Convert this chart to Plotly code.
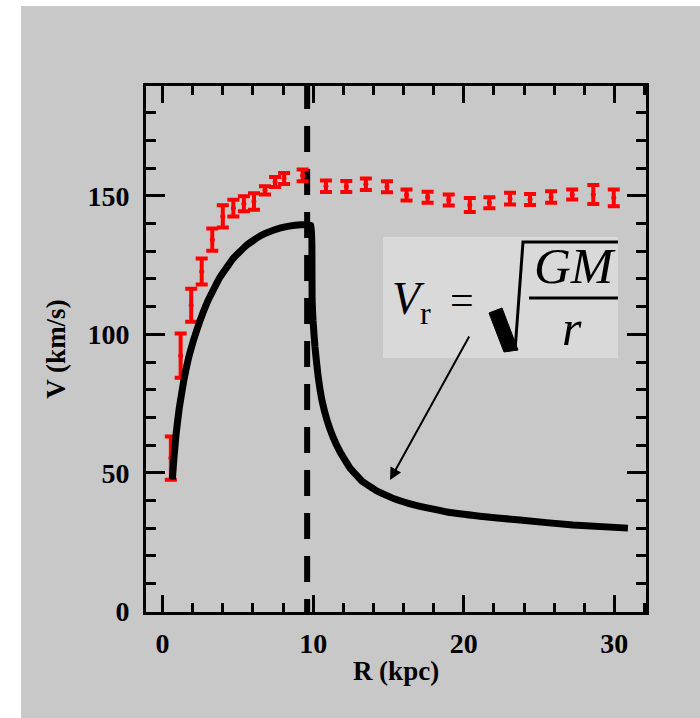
import plotly.graph_objects as go

# ---- data ----
obs_r = [0.55, 1.2, 1.9, 2.6, 3.3, 4.0, 4.7, 5.4, 6.07, 6.8, 7.47, 8.07, 9.3,
         10.85, 12.2, 13.5, 14.9, 16.2, 17.6, 19.0, 20.4, 21.7, 23.07, 24.4,
         25.8, 27.2, 28.6, 29.96]
obs_v = [55.3, 92.3, 110.5, 122.7, 134.2, 142.6, 145.6, 147.2, 148.0, 152.0,
         155.0, 156.3, 157.4, 153.5, 153.4, 154.2, 153.3, 150.3, 149.5, 148.5,
         146.7, 147.5, 149.0, 148.7, 149.6, 150.5, 150.5, 149.3]
obs_err = [7.8, 8.0, 6.0, 4.7, 4.0, 4.0, 3.0, 2.7, 3.0, 1.5, 1.8, 2.0, 2.1,
           2.1, 2.0, 2.1, 2.0, 2.0, 2.0, 2.0, 2.5, 2.0, 2.1, 2.0, 2.1, 1.8,
           3.4, 3.0]

model_r = [0.65, 0.75, 0.9, 1.1, 1.4, 1.8, 2.3, 3.0, 3.8, 4.7, 5.6, 6.5, 7.4,
           8.3, 9.2, 9.85, 9.92, 9.93, 9.99, 10.12, 10.32, 10.58, 10.92, 11.32,
           11.79, 12.45, 13.24, 14.24, 15.43, 16.76, 18.89, 21.07, 23.73,
           27.25, 30.9]
model_v = [47.6, 55.0, 64.0, 73.0, 83.0, 93.0, 102.0, 112.0, 120.5, 127.5,
           132.3, 135.6, 137.7, 139.0, 139.6, 139.3, 126.8, 112.4, 105.1, 95.4,
           85.3, 76.3, 69.0, 62.9, 57.5, 51.7, 47.0, 43.4, 40.5, 38.3, 35.8,
           34.3, 32.9, 31.1, 30.0]

r_cut = [9.6, 9.6]
v_cut = [-5, 195]

x_ticks = [0, 10, 20, 30]
y_ticks = [0, 50, 100, 150]

# ---- layout helpers (pixel -> paper) ----
L, R, T, B = 146, 646, 86, 612
W, H = 700, 718
def fx(px):
    return (px - L) / (R - L)
def fy(py):
    return (B - py) / (B - T)

BG = "#c8c8c8"
tick_font = dict(family="Liberation Serif", size=28, color="black", weight="bold")
title_font = dict(family="Liberation Serif", size=27, color="black")

fig = go.Figure()

fig.add_trace(go.Scatter(
    x=r_cut, y=v_cut, mode="lines",
    line=dict(color="black", width=6, dash="26px,17px"),
    hoverinfo="skip", showlegend=False))

fig.add_trace(go.Scatter(
    x=obs_r, y=obs_v, mode="markers",
    marker=dict(color="red", size=5),
    error_y=dict(type="data", array=obs_err, color="red", thickness=4, width=6),
    showlegend=False))

fig.add_trace(go.Scatter(
    x=model_r, y=model_v, mode="lines",
    line=dict(color="black", width=7, shape="spline", smoothing=0.3),
    showlegend=False))

shapes = []
# gray page background
shapes.append(dict(type="rect", xref="paper", yref="paper",
                   x0=fx(21), x1=fx(700), y0=fy(718), y1=fy(6),
                   fillcolor=BG, line=dict(width=0), layer="below"))
# formula box
shapes.append(dict(type="rect", xref="paper", yref="paper",
                   x0=fx(383), x1=fx(618), y0=fy(358), y1=fy(237),
                   fillcolor="#d9d9d9", line=dict(width=0), layer="below"))

def path(pts, close=True):
    s = "M " + " L ".join(f"{fx(a):.5f},{fy(b):.5f}" for a, b in pts)
    return s + (" Z" if close else "")

# radical sign: thick stroke
shapes.append(dict(type="path", xref="paper", yref="paper",
                   path=path([(489, 313), (502, 308), (518, 350), (504, 352)]),
                   fillcolor="black", line=dict(width=1, color="black")))
# radical thin upstroke + top bar
shapes.append(dict(type="path", xref="paper", yref="paper",
                   path=path([(515, 351), (523, 242), (618, 242)], close=False),
                   line=dict(width=3, color="black")))
# fraction bar
shapes.append(dict(type="line", xref="paper", yref="paper",
                   x0=fx(529), x1=fx(618), y0=fy(298), y1=fy(298),
                   line=dict(width=3, color="black")))

ann = []
def txt(s, px, py, size):
    ann.append(dict(text=s, xref="paper", yref="paper",
                    x=fx(px), y=fy(py), xanchor="center", yanchor="middle",
                    showarrow=False,
                    font=dict(family="Liberation Serif", size=size, color="black")))
txt("<i>V</i><sub>r</sub>", 411, 302, 46)
txt("=", 462, 300, 42)
txt("<i>GM</i>", 575, 266, 51)
txt("<i>r</i>", 572, 328, 50)

# arrow
ann.append(dict(text="", xref="paper", yref="paper",
                x=fx(390), y=fy(480), ax=80, ay=-145,
                showarrow=True, arrowhead=2, arrowsize=1.2, arrowwidth=2,
                arrowcolor="black"))

fig.update_layout(
    width=W, height=H,
    margin=dict(l=L, r=W - R, t=T, b=H - B, pad=0),
    paper_bgcolor="white", plot_bgcolor="rgba(0,0,0,0)",
    shapes=shapes, annotations=ann,
    xaxis=dict(range=[-1.1, 32.1], tickvals=x_ticks, ticktext=[str(v) for v in x_ticks],
               ticks="inside", ticklen=17, tickwidth=3, tickcolor="black",
               minor=dict(dtick=2, ticks="inside", ticklen=9, tickwidth=3, tickcolor="black"),
               showline=True, linewidth=3, linecolor="black", mirror="ticks",
               showgrid=False, zeroline=False, tickfont=tick_font,
               ticklabelstandoff=4,
               title=dict(text="<b>R (kpc)</b>", font=title_font, standoff=4)),
    yaxis=dict(range=[-0.3, 189.7], tickvals=y_ticks, ticktext=[str(v) for v in y_ticks],
               ticks="inside", ticklen=19, tickwidth=3, tickcolor="black",
               minor=dict(dtick=10, ticks="inside", ticklen=10, tickwidth=3, tickcolor="black"),
               showline=True, linewidth=3, linecolor="black", mirror="ticks",
               showgrid=False, zeroline=False, tickfont=tick_font,
               ticklabelstandoff=8,
               title=dict(text="<b>V (km/s)</b>", font=title_font, standoff=14)),
)

fig.write_html("out.html")
